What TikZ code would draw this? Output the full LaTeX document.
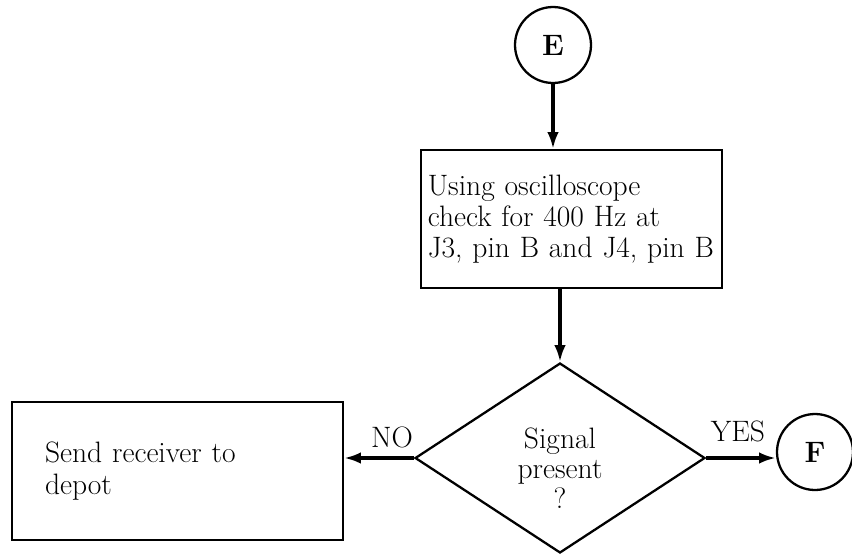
\documentclass[tikz,border=0pt]{standalone}
\usepackage{tikz}
\usetikzlibrary{shapes.geometric,arrows.meta}

\tikzset{
  box/.style={draw,line width=1.3pt,rectangle,minimum height=2.76cm,align=left,
    font=\fontsize{16.8}{17.8}\selectfont},
  decision/.style={draw,line width=1.3pt,diamond,minimum width=5.8cm,minimum height=3.8cm,
    inner sep=0pt,align=center,font=\fontsize{16.8}{17}\selectfont},
  term/.style={draw,line width=1.3pt,circle,minimum size=1.52cm,inner sep=0pt,
    font=\fontsize{16.8}{17.8}\selectfont\bfseries},
  conn/.style={line width=1.8pt,-{Latex[length=9.5pt,width=6.5pt]}},
  lab/.style={font=\fontsize{16.8}{17.8}\selectfont}
}

\begin{document}
\begin{tikzpicture}[x=0.02cm,y=-0.02cm]
\useasboundingbox (0,0) rectangle (852,555);
\node[term] (e) at (553,45) {E};
\node[box,minimum width=6.02cm,text width=5.75cm,inner xsep=0.13cm] (check) at (571.5,219)
  {Using oscilloscope\\check for 400 Hz at\\J3, pin B and J4, pin B};
\node[decision] (signal) at (560,458) {\rule{0pt}{23pt}Signal\\present\\?};
\node[box,minimum width=6.62cm,text width=5.3cm,inner xsep=0.66cm] (depot) at (177.5,471)
  {Send receiver to\\depot};
\node[term] (f) at (815,452) {F};
\draw[conn] (e) -- (e|-check.north);
\draw[conn] (check.south-|signal.north) -- (signal.north);
\draw[conn] (signal.west) -- (signal.west-|depot.east);
\draw[conn] (signal.east) -- (signal.east-|f.west);
\node[lab] at (392,437) {NO};
\node[lab] at (738,431) {YES};
\end{tikzpicture}
\end{document}
